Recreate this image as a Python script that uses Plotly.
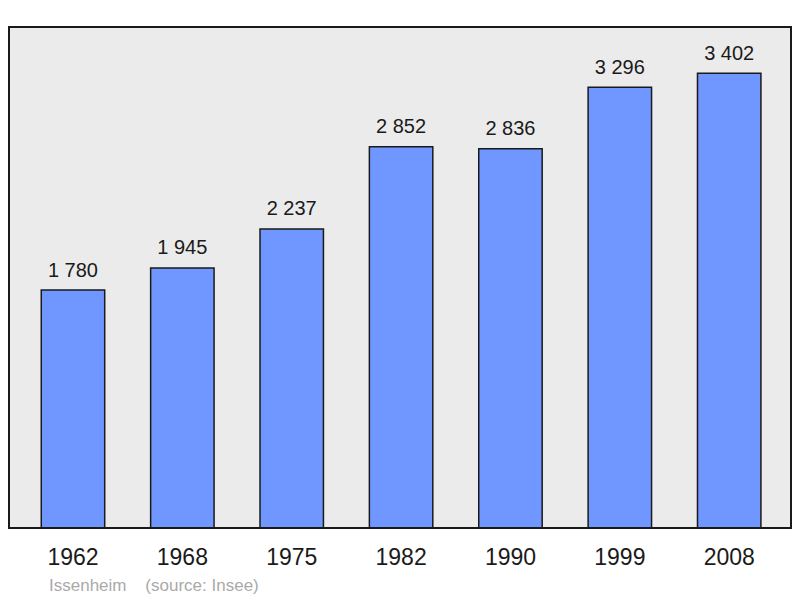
import plotly.graph_objects as go

years = ["1962", "1968", "1975", "1982", "1990", "1999", "2008"]
population = [1780, 1945, 2237, 2852, 2836, 3296, 3402]
labels = [f"{v:,}".replace(",", " ") for v in population]

FONT = "Liberation Sans, Arial, sans-serif"

fig = go.Figure()
fig.add_trace(go.Bar(
    x=years, y=population, width=0.58,
    marker=dict(color="#7096ff", line=dict(color="#1a1a1a", width=1.5)),
    hoverinfo="skip",
))
fig.add_trace(go.Scatter(
    x=years, y=population, mode="markers+text", text=labels,
    textposition="top center",
    marker=dict(size=12, color="rgba(0,0,0,0)"),
    textfont=dict(family=FONT, size=20, color="#1a1a1a"),
    hoverinfo="skip", cliponaxis=False,
))

fig.add_annotation(x=0, y=0, xref="paper", yref="paper", xanchor="left", yanchor="middle",
                   xshift=38, yshift=-57, showarrow=False,
                   text="Issenheim&nbsp;&nbsp;&nbsp;&nbsp;(source: Insee)",
                   font=dict(family=FONT, size=17, color="#aaaaaa"))

fig.add_shape(type="rect", xref="paper", yref="paper", x0=0, x1=1, y0=0, y1=1,
              line=dict(color="#1a1a1a", width=2), layer="above")

fig.update_layout(
    width=800, height=598,
    margin=dict(l=9, r=9, t=27, b=70),
    paper_bgcolor="white", plot_bgcolor="#ebebeb",
    showlegend=False,
    xaxis=dict(type="category", range=[-0.585, 6.565], showgrid=False, zeroline=False,
               showline=False, ticks="outside", ticklen=8, tickcolor="rgba(0,0,0,0)",
               tickfont=dict(family=FONT, size=23, color="#1a1a1a")),
    yaxis=dict(range=[0, 3747], showgrid=False, zeroline=False, showticklabels=False,
               showline=False),
)

fig.write_html("out.html", config={"displayModeBar": False},
               post_script="document.body.style.margin='0';document.body.style.overflow='hidden';")
